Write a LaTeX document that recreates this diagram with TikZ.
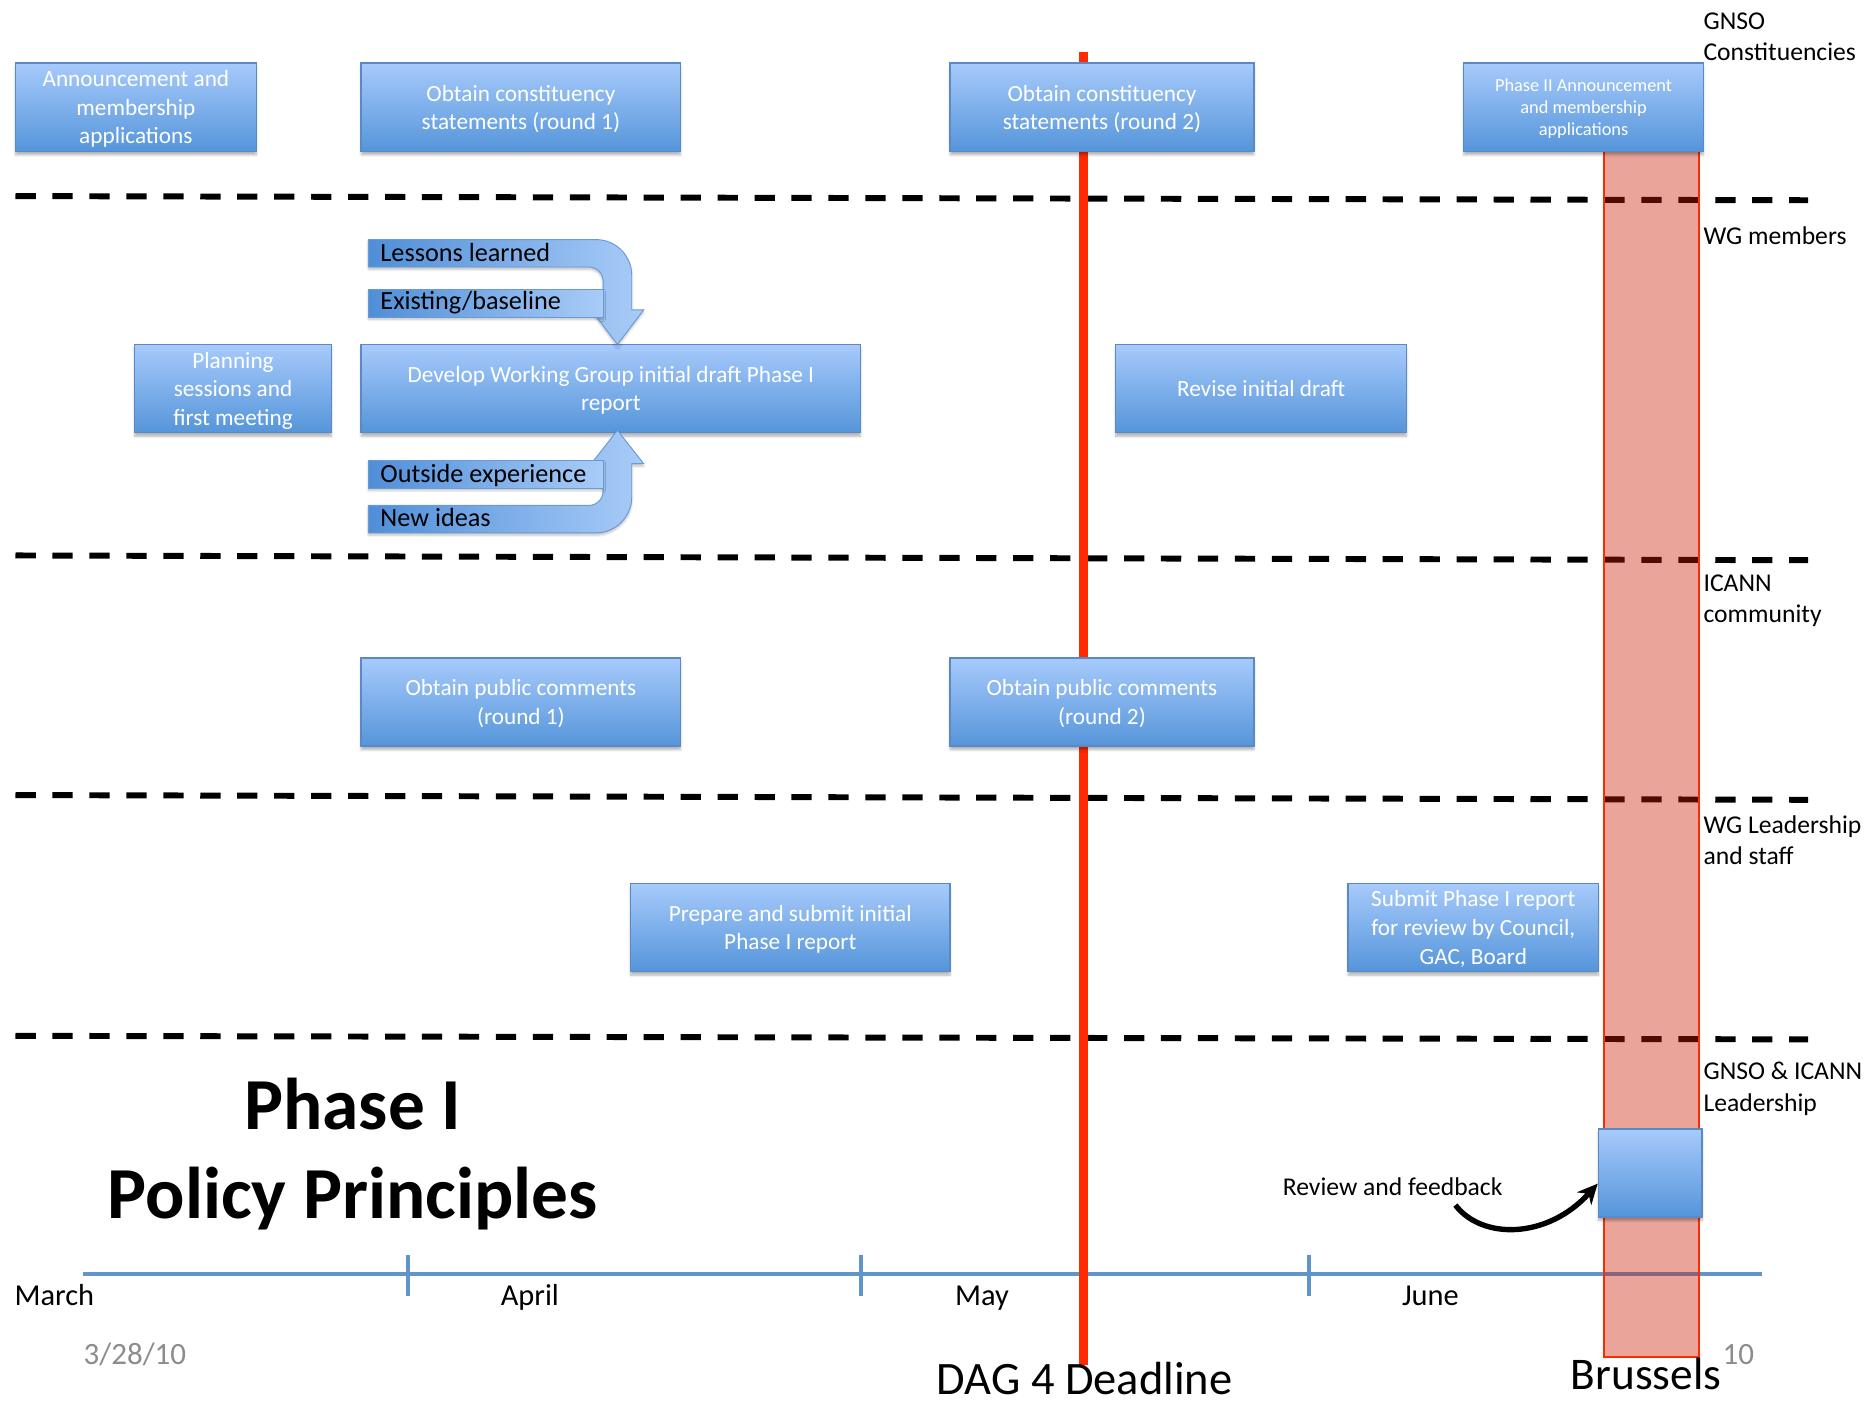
\documentclass[tikz,border=0pt]{standalone}
\usepackage{fontspec}
\setmainfont{Carlito}
\usepackage{tikz}
\usetikzlibrary{arrows.meta,shadows.blur}
\definecolor{boxTop}{HTML}{A7CAFB}
\definecolor{boxBot}{HTML}{5595DA}
\definecolor{boxLine}{HTML}{5A89C6}
\definecolor{barDark}{HTML}{4F8ED8}
\definecolor{barLight}{HTML}{A9CCF8}
\definecolor{barLine}{HTML}{6A9AD2}
\definecolor{dagRed}{HTML}{FF2A00}
\definecolor{bandFill}{RGB}{202,27,0}
\definecolor{axisBlue}{HTML}{6294CC}
\definecolor{dateGray}{HTML}{8C8C8C}
\tikzset{
  task/.style={draw=boxLine, line width=1.2pt, top color=boxTop, bottom color=boxBot,
    text=white, align=center, inner sep=0pt, minimum height=74pt, text depth=-4.5pt,
    font=\fontsize{19.5}{24}\selectfont,
    blur shadow={shadow xshift=0pt, shadow yshift=-3pt, shadow blur steps=6, shadow opacity=30}},
  bar/.style={draw=barLine, line width=0.8pt, left color=barDark, right color=barLight,
    blur shadow={shadow xshift=0pt, shadow yshift=-2pt, shadow blur steps=5, shadow opacity=25}},
  barText/.style={anchor=base west, inner sep=0pt, font=\fontsize{22}{26}\selectfont},
  lane/.style={anchor=base west, align=left, inner sep=0pt, font=\fontsize{21.5}{26.5}\selectfont},
  laneLine/.style={line width=5pt, dash pattern=on 17pt off 14pt},
  month/.style={anchor=base west, inner sep=0pt, font=\fontsize{25.5}{30}\selectfont},
  axis/.style={draw=axisBlue, line width=3.5pt},
  big/.style={anchor=base, inner sep=0pt, font=\fontsize{39}{44}\selectfont},
  grayNum/.style={anchor=base west, inner sep=0pt, text=dateGray, font=\fontsize{26}{30}\selectfont},
  fbArrow/.style={line width=4.5pt, -{Stealth[length=17pt,width=16pt]}}
}
\begin{document}
\begin{tikzpicture}[x=1pt,y=-1pt]
\useasboundingbox (0,0) rectangle (1568,1177);

% lanes
\foreach \ya/\yb in {164.5/168, 466/470, 667/671, 869/872}
  \draw[laneLine] (13,\ya) -- (1517,\yb);

% timeline
\coordinate (tlStart) at (70,1069);
\coordinate (tlEnd) at (1478,1069);
\draw[axis] (tlStart) -- (tlEnd);
\foreach \x in {342,722,1098}
  \draw[axis] (\x,1053) -- (\x,1087);

% Brussels band
\fill[bandFill, fill opacity=0.4] (1345.5,120) rectangle (1425.5,1138.5);
\draw[dagRed, line width=1.6pt] (1345.5,120) |- (1425.5,1138.5) -- (1425.5,120);

% deadline
\coordinate (dagTop) at (909,44);
\coordinate (dagBot) at (909,1145);
\draw[dagRed, line width=8pt] (dagTop) -- (dagBot);

% tasks
\node[task, minimum width=202pt] (annBox) at (114,90) {Announcement and\\membership\\applications};
\node[task, minimum width=268pt] (con1) at (437,90) {Obtain constituency\\statements (round 1)};
\node[task, minimum width=255pt] (con2) at (924.5,90) {Obtain constituency\\statements (round 2)};
\node[task, minimum width=201pt, text depth=-3pt, font=\fontsize{15.4}{18.7}\selectfont] (ph2) at (1328.5,90) {Phase II Announcement\\and membership\\applications};
\node[task, minimum width=165pt] (plan) at (195.5,326) {Planning\\sessions and\\first meeting};
\node[task, minimum width=419pt] (dev) at (512.5,326) {Develop Working Group initial draft Phase I\\report};
\node[task, minimum width=244pt, text depth=-3pt] (rev) at (1058,326) {Revise initial draft};
\node[task, minimum width=268pt] (pub1) at (437,589) {Obtain public comments\\(round 1)};
\node[task, minimum width=255pt] (pub2) at (924.5,589) {Obtain public comments\\(round 2)};
\node[task, minimum width=268pt] (prep) at (663,778) {Prepare and submit initial\\Phase I report};
\node[task, minimum width=210pt] (sub) at (1236,778) {Submit Phase I report\\for review by Council,\\GAC, Board};
\node[task, minimum width=87pt] (fb) at (1384.5,984) {};

% inputs to the draft
\draw[bar] (309,201) -- (500,201) .. controls (516.6,201) and (530,214.4) .. (530,231)
  -- (530,260) -- (540,260) -- (518,289) -- (496,260) -- (506,260) -- (506,236)
  .. controls (506,229.4) and (500.6,224) .. (494,224) -- (309,224) -- cycle;
\draw[bar] (309,242.5) rectangle (506,266);
\draw[bar] (309,447) -- (500,447) .. controls (516.6,447) and (530,433.6) .. (530,417)
  -- (530,389) -- (540,389) -- (518,361) -- (496,389) -- (506,389) -- (506,412)
  .. controls (506,418.6) and (500.6,424) .. (494,424) -- (309,424) -- cycle;
\draw[bar] (309,386) rectangle (506,409.5);
\node[barText] (lessons) at (319,219.5) {Lessons learned};
\node[barText] (existing) at (319,260) {Existing/baseline};
\node[barText] (outside) at (319,404.5) {Outside experience};
\node[barText] (newIdeas) at (319,442) {New ideas};

% groups
\node[lane] (gnso) at (1429,51) {GNSO\\Constituencies};
\node[lane] (wg) at (1429,205) {WG members};
\node[lane] (icann) at (1429,522.5) {ICANN\\community};
\node[lane] (lead) at (1429,725.5) {WG Leadership\\and staff};
\node[lane] (board) at (1429,932.5) {GNSO \& ICANN\\Leadership};

% title
\node[align=center, inner sep=0pt, font=\fontsize{61.5}{75}\bfseries] (title) at (296,968) {Phase I\\Policy Principles};

% feedback
\node[anchor=base west, inner sep=0pt, font=\fontsize{21.5}{26}\selectfont] (fbText) at (1076,1003) {Review and feedback};
\coordinate (fbStart) at (1221,1011);
\draw[fbArrow] (fbStart) .. controls (1243,1040) and (1298,1040) .. ([yshift=-9pt]fb.west);

% months
\node[month] (march) at (12,1095) {March};
\node[month] (april) at (420,1095) {April};
\node[month] (may) at (801,1095) {May};
\node[month] (june) at (1176,1095) {June};

\node[grayNum] (date) at (70,1145) {3/28/10};
\node[grayNum] (page) at (1445,1145) {10};
\node[big] (dag) at (910,1169.5) {DAG 4 Deadline};
\node[big, font=\fontsize{38}{44}\selectfont] (brussels) at (1381,1166) {Brussels};
\end{tikzpicture}
\end{document}
